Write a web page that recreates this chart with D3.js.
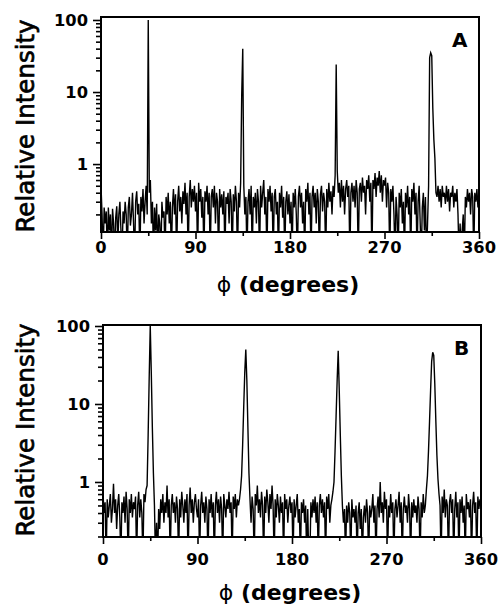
<!DOCTYPE html>
<html>
<head>
<meta charset="utf-8">
<script src="https://cdn.jsdelivr.net/npm/d3@7"></script>
<style>
	body { margin: 0; background: #fff; }
	svg { display: block; }
	text { font-family: "DejaVu Sans", sans-serif; fill: #000; }
	.tick-label { font-weight: bold; font-size: 16.3px; }
	.y-title { font-size: 24.5px; stroke: #000; stroke-width: 0.7px; }
	.x-title { font-weight: bold; font-size: 22px; }
	.panel-label { font-weight: bold; font-size: 20px; }
	.data { fill: none; stroke: #000; stroke-width: 1.4; stroke-linejoin: miter; }
	.frame { fill: none; stroke: #000; stroke-width: 2; }
	.axis path { display: none; }
	.axis line { stroke: #000; stroke-width: 1.6; }
</style>
</head>
<body>
<svg width="499" height="608"></svg>
<script>
const xTicks = [0, 90, 180, 270, 360];
const xMinorTicks = [45, 135, 225, 315];
const yTicks = [1, 10, 100];
const yTickLabels = ['1', '10', '100'];

// relative intensity, one reading per degree of phi (0..360)
const intensityA = [
	0.5, 0.2, 0.05, 0.25, 0.15, 0.22, 0.05, 0.25, 0.12, 0.2,
	0.05, 0.24, 0.15, 0.05, 0.18, 0.26, 0.08, 0.2, 0.3, 0.12,
	0.05, 0.22, 0.15, 0.3, 0.2, 0.05, 0.25, 0.35, 0.14, 0.2,
	0.4, 0.15, 0.05, 0.3, 0.42, 0.2, 0.28, 0.05, 0.35, 0.22,
	0.45, 0.15, 0.3, 0.5, 0.2, 100, 0.4, 0.6, 0.15, 0.3,
	0.05, 0.25, 0.12, 0.28, 0.05, 0.2, 0.15, 0.05, 0.3, 0.18,
	0.22, 0.05, 0.35, 0.2, 0.4, 0.15, 0.3, 0.05, 0.25, 0.45,
	0.2, 0.38, 0.05, 0.3, 0.5, 0.22, 0.35, 0.15, 0.42, 0.28,
	0.55, 0.2, 0.4, 0.05, 0.35, 0.6, 0.25, 0.45, 0.3, 0.5,
	0.22, 0.4, 0.05, 0.55, 0.3, 0.45, 0.18, 0.35, 0.05, 0.42,
	0.3, 0.5, 0.2, 0.4, 0.05, 0.35, 0.45, 0.25, 0.5, 0.15,
	0.4, 0.3, 0.05, 0.45, 0.25, 0.38, 0.2, 0.42, 0.05, 0.35,
	0.28, 0.4, 0.15, 0.45, 0.3, 0.05, 0.38, 0.22, 0.5, 0.3,
	0.05, 0.4, 0.25, 0.55, 9, 40, 0.5, 0.2, 0.35, 0.05,
	0.3, 0.45, 0.2, 0.5, 0.05, 0.35, 0.25, 0.4, 0.15, 0.45,
	0.3, 0.05, 0.5, 0.25, 0.4, 0.6, 0.2, 0.35, 0.05, 0.45,
	0.3, 0.5, 0.22, 0.4, 0.05, 0.35, 0.45, 0.2, 0.3, 0.05,
	0.4, 0.25, 0.5, 0.18, 0.35, 0.05, 0.3, 0.42, 0.2, 0.38,
	0.15, 0.3, 0.05, 0.4, 0.25, 0.45, 0.2, 0.05, 0.35, 0.5,
	0.25, 0.4, 0.15, 0.3, 0.05, 0.45, 0.3, 0.55, 0.2, 0.4,
	0.05, 0.35, 0.5, 0.25, 0.4, 0.15, 0.45, 0.3, 0.05, 0.38,
	0.5, 0.22, 0.4, 0.3, 0.05, 0.45, 0.25, 0.55, 0.3, 0.42,
	0.2, 0.5, 0.35, 0.7, 24, 0.8, 0.4, 0.55, 0.25, 0.6,
	0.3, 0.5, 0.2, 0.45, 0.6, 0.35, 0.5, 0.05, 0.4, 0.55,
	0.3, 0.5, 0.25, 0.6, 0.4, 0.05, 0.45, 0.55, 0.3, 0.65,
	0.4, 0.5, 0.2, 0.6, 0.45, 0.7, 0.3, 0.55, 0.05, 0.6,
	0.45, 0.75, 0.35, 0.65, 0.5, 0.8, 0.4, 0.7, 0.3, 0.6,
	0.5, 0.65, 0.25, 0.55, 0.4, 0.05, 0.45, 0.3, 0.5, 0.2,
	0.05, 0.35, 0.2, 0.05, 0.4, 0.25, 0.45, 0.15, 0.3, 0.05,
	0.4, 0.25, 0.5, 0.2, 0.35, 0.05, 0.45, 0.3, 0.55, 0.2,
	0.4, 0.05, 0.3, 0.5, 0.15, 0.05, 0.25, 0.4, 0.12, 0.35,
	0.05, 0.15, 0.5, 30, 35, 32, 6, 2.2, 1.2, 0.4,
	0.35, 0.5, 0.3, 0.45, 0.25, 0.5, 0.35, 0.4, 0.28, 0.5,
	0.3, 0.45, 0.22, 0.4, 0.35, 0.5, 0.25, 0.4, 0.3, 0.45,
	0.2, 0.05, 0.15, 0.05, 0.12, 0.2, 0.05, 0.35, 0.25, 0.45,
	0.3, 0.4, 0.2, 0.45, 0.35, 0.05, 0.4, 0.3, 0.45, 0.25,
	0.4
];

const intensityB = [
	0.7, 0.4, 0.55, 0.1, 0.6, 0.35, 0.5, 0.7, 0.3, 0.45,
	0.95, 0.4, 0.6, 0.25, 0.5, 0.7, 0.35, 0.1, 0.55, 0.4,
	0.65, 0.3, 0.75, 0.45, 0.1, 0.6, 0.4, 0.7, 0.35, 0.55,
	0.45, 0.65, 0.1, 0.5, 0.75, 0.35, 0.6, 0.4, 0.1, 0.7,
	0.55, 0.8, 0.9, 4, 22, 100, 25, 5, 1.3, 0.5,
	0.1, 0.3, 0.1, 0.45, 0.25, 0.6, 0.4, 0.7, 0.3, 0.55,
	0.4, 0.9, 0.35, 0.6, 0.1, 0.5, 0.7, 0.4, 0.55, 0.3,
	0.65, 0.45, 0.1, 0.6, 0.35, 0.75, 0.5, 0.3, 0.6, 0.4,
	0.7, 0.1, 0.5, 0.85, 0.4, 0.6, 0.3, 0.55, 0.7, 0.45,
	0.35, 0.6, 0.1, 0.5, 0.75, 0.4, 0.55, 0.3, 0.65, 0.45,
	0.1, 0.6, 0.4, 0.7, 0.35, 0.55, 0.1, 0.5, 0.75, 0.4,
	0.6, 0.3, 0.65, 0.45, 0.1, 0.7, 0.5, 0.35, 0.6, 0.45,
	0.75, 0.4, 0.55, 0.1, 0.65, 0.45, 0.7, 0.35, 0.6, 0.5,
	0.6, 0.8, 1.2, 3, 9, 25, 50, 20, 5, 1.3,
	0.6, 0.3, 0.65, 0.45, 0.1, 0.7, 0.5, 0.9, 0.4, 0.6,
	0.35, 0.75, 0.5, 0.1, 0.65, 0.4, 0.8, 0.55, 0.3, 0.7,
	0.45, 0.9, 0.5, 0.1, 0.6, 0.35, 0.7, 0.5, 0.3, 0.65,
	0.4, 0.55, 0.1, 0.7, 0.45, 0.6, 0.3, 0.5, 0.65, 0.4,
	0.55, 0.1, 0.6, 0.35, 0.5, 0.7, 0.3, 0.45, 0.1, 0.55,
	0.4, 0.6, 0.3, 0.5, 0.1, 0.45, 0.1, 0.1, 0.55, 0.35,
	0.6, 0.4, 0.65, 0.3, 0.55, 0.1, 0.5, 0.7, 0.4, 0.6,
	0.35, 0.55, 0.1, 0.65, 0.45, 0.7, 0.3, 0.5, 0.6, 0.75,
	1.0, 2.5, 7, 20, 48, 15, 4, 1.2, 0.5, 0.3,
	0.45, 0.1, 0.5, 0.3, 0.55, 0.4, 0.1, 0.6, 0.35, 0.45,
	0.3, 0.5, 0.1, 0.4, 0.55, 0.25, 0.45, 0.1, 0.35, 0.5,
	0.3, 0.6, 0.4, 0.1, 0.5, 0.35, 0.45, 0.7, 0.3, 0.5,
	0.1, 0.45, 0.65, 0.35, 1.0, 0.4, 0.55, 0.3, 0.75, 0.45,
	0.6, 0.1, 0.5, 0.35, 0.7, 0.4, 0.55, 0.1, 0.45, 0.6,
	0.35, 0.5, 0.75, 0.3, 0.55, 0.1, 0.45, 0.65, 0.4, 0.5,
	0.3, 0.7, 0.45, 0.1, 0.55, 0.35, 0.6, 0.4, 0.5, 0.3,
	0.65, 0.45, 0.1, 0.55, 0.35, 0.7, 0.4, 0.5, 0.8, 1.2,
	2.5, 6, 15, 35, 46, 42, 18, 6, 2.2, 1.1,
	0.7, 0.5, 0.1, 0.65, 0.4, 0.8, 0.35, 0.6, 0.5, 0.1,
	0.55, 0.7, 0.4, 0.6, 0.1, 0.45, 0.75, 0.35, 0.55, 0.1,
	0.6, 0.4, 0.65, 0.3, 0.5, 0.1, 0.7, 0.45, 0.55, 0.35,
	0.6, 0.1, 0.5, 0.75, 0.4, 0.55, 0.1, 0.65, 0.45, 0.6,
	0.5
];

const svg = d3.select('svg');

const panels = [
	{ id: 'a', label: 'A', values: intensityA, left: 101, right: 479, top: 17, bottom: 232,
		yDomain: [0.114, 110], tickBase: 253, titleBase: 292, titleX: 288, yTitleY: 126 },
	{ id: 'b', label: 'B', values: intensityB, left: 103, right: 481, top: 325, bottom: 537,
		yDomain: [0.197, 103], tickBase: 565, titleBase: 600, titleX: 290, yTitleY: 430 }
];

panels.forEach(drawPanel);

function drawPanel(p) {
	const x = d3.scaleLinear().domain([0, 360]).range([p.left, p.right]);
	const y = d3.scaleLog().domain(p.yDomain).range([p.bottom, p.top]);

	const g = svg.append('g');

	g.append('clipPath')
		.attr('id', `clip-${p.id}`)
		.append('rect')
		.attr('x', p.left)
		.attr('y', p.top)
		.attr('width', p.right - p.left)
		.attr('height', p.bottom - p.top);

	const line = d3.line()
		.x((d, i) => x(i))
		.y((d) => y(d));

	g.append('path')
		.datum(p.values)
		.attr('class', 'data')
		.attr('clip-path', `url(#clip-${p.id})`)
		.attr('d', line);

	// minor log ticks, then the decades
	const minor = y.ticks().filter((v) => !yTicks.some((t) => Math.abs(t - v) < 1e-9));

	g.append('g')
		.attr('class', 'axis')
		.attr('transform', `translate(${p.left},0)`)
		.call(d3.axisLeft(y).tickValues(minor).tickSize(5).tickFormat(''));

	g.append('g')
		.attr('class', 'axis')
		.attr('transform', `translate(${p.left},0)`)
		.call(d3.axisLeft(y).tickValues(yTicks).tickSize(8).tickFormat(''));

	g.selectAll('.y-label')
		.data(yTicks)
		.enter()
		.append('text')
		.attr('class', 'tick-label')
		.attr('text-anchor', 'end')
		.attr('x', p.left - 13)
		.attr('y', (d) => y(d))
		.attr('dy', '0.36em')
		.text((d, i) => yTickLabels[i]);

	g.append('g')
		.attr('class', 'axis')
		.attr('transform', `translate(0,${p.bottom})`)
		.call(d3.axisBottom(x).tickValues(xMinorTicks).tickSize(4).tickFormat(''));

	g.append('g')
		.attr('class', 'axis')
		.attr('transform', `translate(0,${p.bottom})`)
		.call(d3.axisBottom(x).tickValues(xTicks).tickSize(7).tickFormat(''));

	g.selectAll('.x-label')
		.data(xTicks)
		.enter()
		.append('text')
		.attr('class', 'tick-label')
		.attr('text-anchor', 'middle')
		.attr('x', (d) => x(d))
		.attr('y', p.tickBase)
		.text((d) => d);

	g.append('rect')
		.attr('class', 'frame')
		.attr('x', p.left)
		.attr('y', p.top)
		.attr('width', p.right - p.left)
		.attr('height', p.bottom - p.top);

	g.append('text')
		.attr('class', 'panel-label')
		.attr('x', p.right - 27)
		.attr('y', p.top + 30)
		.text(p.label);

	g.append('text')
		.attr('class', 'y-title')
		.attr('text-anchor', 'middle')
		.attr('transform', `translate(34,${p.yTitleY}) rotate(-90)`)
		.text('Relative Intensity');

	const xt = g.append('text')
		.attr('class', 'x-title')
		.attr('text-anchor', 'middle')
		.attr('x', p.titleX)
		.attr('y', p.titleBase);
	xt.append('tspan').attr('font-weight', 'normal').text('ϕ');
	xt.append('tspan').text(' (degrees)');
}
</script>
</body>
</html>
